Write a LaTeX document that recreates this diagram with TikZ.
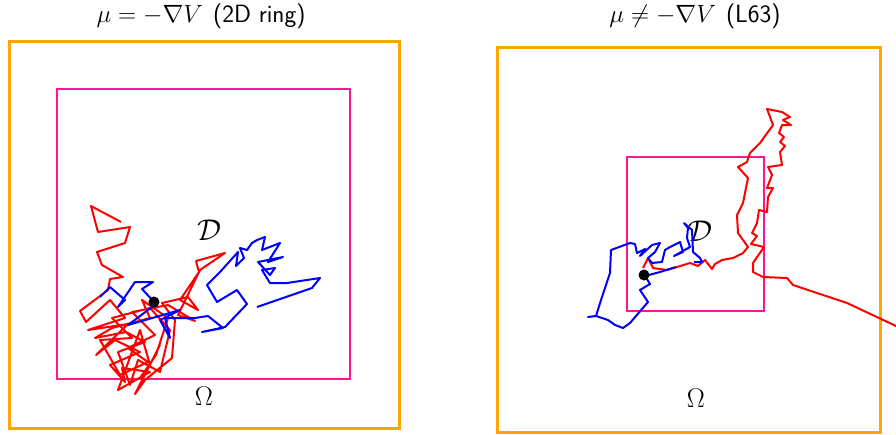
\RequirePackage{fix-cm}
\documentclass[tikz,border=0pt]{standalone}
\usepackage{amsmath,amssymb}
\usepackage{tikz}
\usetikzlibrary{positioning}

\definecolor{boxorange}{RGB}{255,165,0}
\definecolor{boxpink}{RGB}{255,20,147}

\begin{document}
\begin{tikzpicture}[
  x=1pt, y=-1pt,
  outer/.style={draw=boxorange, line width=3pt},
  inner/.style={draw=boxpink, line width=2.8pt},
  walkred/.style={draw=red, line width=2pt, line join=round},
  walkblue/.style={draw=blue, line width=2pt, line join=round},
  ttl/.style={font=\fontsize{25}{28}\selectfont, inner sep=0pt, anchor=base},
  dlbl/.style={font=\fontsize{30}{32}\selectfont, inner sep=0pt},
  olbl/.style={font=\fontsize{27}{30}\selectfont, inner sep=0pt},
  start/.style={circle, fill=black, inner sep=0pt, minimum size=11pt}
]
\useasboundingbox (0,0) rectangle (896,434);

% left panel: gradient flow
\node[ttl] (titleL) at (201,22) {$\mu = -\nabla V$\hspace{0.1em} \textsf{(2D ring)}};
\draw[outer] (9,41) rectangle (399,428);
\draw[inner] (57,89) rectangle (350,379);
\node[dlbl] (domL) at (209,230) {$\mathcal{D}$};
\node[olbl] (omL)  at (204,396) {$\Omega$};

\draw[walkred] (121,222) -- (91,206) -- (98,232) -- (130,227) -- (125,243)
  -- (97,252) -- (102,265) -- (123,277) -- (110,279) -- (108,290)
  -- (80,311) -- (86,322) -- (110,300) -- (125,318) -- (88,330)
  -- (128,324) -- (96,355) -- (115,340) -- (140,352) -- (110,365)
  -- (125,382) -- (122,368) -- (150,372) -- (118,390) -- (140,330)
  -- (150,365) -- (160,345) -- (135,394) -- (145,380) -- (172,358)
  -- (175,320) -- (162,303) -- (188,297) -- (198,310) -- (180,300)
  -- (199,272) -- (196,261) -- (225,253) -- (200,270) -- (178,315)
  -- (195,321) -- (168,305) -- (132,312) -- (155,335) -- (128,348)
  -- (148,362) -- (120,375) -- (100,340) -- (132,338) -- (112,318)
  -- (150,308) -- (170,330) -- (160,372) -- (138,360) -- (130,385)
  -- (118,352) -- (145,342) -- (126,332) -- (95,338) -- (112,328)
  -- (150,318) -- (142,300) -- (168,318) -- (156,355) -- (140,378);
\draw[walkblue] (100,297) -- (110,287) -- (125,300) -- (118,307) -- (135,282)
  -- (153,282) -- (142,289) -- (156,304) -- (128,325) -- (180,310)
  -- (160,320) -- (170,338) -- (165,318) -- (195,318) -- (208,316)
  -- (223,328) -- (202,332) -- (225,327) -- (247,304) -- (237,290)
  -- (217,302) -- (207,285) -- (220,272) -- (238,252) -- (236,266)
  -- (244,258) -- (240,248) -- (247,250) -- (252,243) -- (257,240)
  -- (265,237) -- (262,250) -- (280,243) -- (268,262) -- (283,257)
  -- (258,262) -- (270,275) -- (275,268) -- (262,270) -- (270,283)
  -- (287,283) -- (320,278) -- (312,288) -- (257,307);
\node[start] (x0L) at (154,302) {};

% right panel: non-gradient flow
\node[ttl] (titleR) at (695,22) {$\mu \neq -\nabla V$\hspace{0.1em} \textsf{(L63)}};
\draw[outer] (497,47) rectangle (880,432);
\draw[inner] (627,157) rectangle (764,311);
\node[dlbl] (domR) at (700,231) {$\mathcal{D}$};
\node[olbl] (omR)  at (696,398) {$\Omega$};

\draw[walkred] (643,268) -- (648,258) -- (653,268) -- (667,270) -- (677,267)
  -- (690,263) -- (698,266) -- (705,260) -- (712,269) -- (715,264)
  -- (722,260) -- (733,258) -- (743,253) -- (748,247) -- (738,233)
  -- (737,215) -- (743,203) -- (748,178) -- (738,167) -- (747,162)
  -- (750,153) -- (760,143) -- (773,125) -- (767,109) -- (782,112)
  -- (790,117) -- (783,120) -- (791,125) -- (782,125) -- (779,133)
  -- (784,137) -- (780,142) -- (785,146) -- (780,152) -- (782,165)
  -- (768,167) -- (772,175) -- (767,188) -- (773,188) -- (768,197)
  -- (767,212) -- (759,210) -- (757,223) -- (752,233) -- (757,236)
  -- (751,244) -- (764,247) -- (753,263) -- (753,272) -- (763,277)
  -- (787,278) -- (793,285) -- (817,293) -- (847,303) -- (896,326);
\draw[walkblue] (676,267) -- (660,272) -- (645,276) -- (650,284) -- (640,290)
  -- (648,302) -- (630,323) -- (623,328) -- (615,325) -- (608,320)
  -- (596,316) -- (588,317) -- (596,316) -- (601,300) -- (610,273)
  -- (611,250) -- (630,243) -- (635,244) -- (637,253) -- (645,249)
  -- (640,256) -- (652,245) -- (660,243) -- (655,252) -- (648,258)
  -- (652,263) -- (662,262) -- (665,250) -- (670,247) -- (680,242)
  -- (683,252) -- (674,256) -- (690,247) -- (687,238) -- (688,228)
  -- (684,223) -- (692,230) -- (693,252) -- (700,258) -- (702,262)
  -- (694,262);
\node[start] (x0R) at (644,275) {};

\end{tikzpicture}
\end{document}
